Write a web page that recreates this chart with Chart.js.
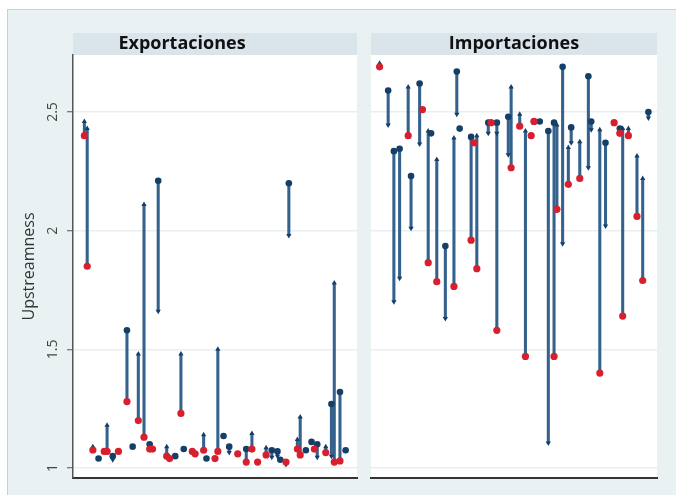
<!DOCTYPE html>
<html lang="es">
<head>
<meta charset="utf-8">
<title>Upstreamness</title>
<script src="https://cdn.jsdelivr.net/npm/chart.js@4.4.1/dist/chart.umd.min.js"></script>
<style>
  html, body { margin: 0; padding: 0; background: #fff; }
  #marco { position: absolute; left: 7px; top: 9px; width: 669px; height: 486px;
           background: #e9f1f3; border-top: 1px solid #c9cfd2; border-left: 1px solid #c9cfd2; box-sizing: border-box; }
  #izq { position: absolute; left: 0; top: 0; }
  #der { position: absolute; left: 362px; top: 0; }
</style>
</head>
<body>
<div id="marco"></div>
<canvas id="izq" width="362" height="495"></canvas>
<canvas id="der" width="314" height="495"></canvas>
<script>
// eje y
const valoresY = [1, 1.5, 2, 2.5];
const etiquetasY = ['1', '1.5', '2', '2.5'];

// Exportaciones: posicion del sector, punto rojo, punto azul, punta de flecha
const expSector = [4, 5, 7, 9, 11, 12, 14, 16, 19, 21, 23, 25, 27, 28, 30, 33, 34, 36, 38, 39, 42, 43, 46, 47, 50,
                   51, 53, 55, 58, 61, 63, 65, 68, 70, 72, 73, 75, 76, 79, 80, 82, 84, 85, 86, 89, 91, 92, 94, 96];
const expRojo = [2.40, 1.85, 1.076, null, 1.07, 1.07, null, 1.07, 1.28, null, 1.20, 1.13, 1.08, 1.08, null, 1.05, 1.04, null, 1.23, null, 1.07, 1.06, 1.075, null, 1.04,
                 1.07, null, null, 1.06, 1.025, 1.08, 1.025, 1.055, null, null, null, 1.025, null, 1.08, 1.055, null, null, 1.08, null, 1.065, null, 1.025, 1.03, null];
const expAzul = [null, null, null, 1.04, null, null, 1.05, null, 1.58, 1.09, null, null, 1.10, null, 2.21, null, null, 1.05, null, 1.08, null, null, null, 1.04, null,
                 null, 1.135, 1.09, null, 1.08, null, null, null, 1.075, 1.07, 1.035, null, 2.20, null, null, 1.075, 1.11, null, 1.10, null, 1.27, null, 1.32, 1.075];
const expFlecha = [2.46, 2.43, 1.09, null, null, 1.18, 1.035, null, null, null, 1.48, 2.11, null, null, 1.66, 1.09, null, null, 1.48, null, null, null, 1.14, null, null,
                   1.50, null, 1.065, null, null, 1.145, null, 1.085, 1.045, 1.05, null, 1.015, 1.98, 1.12, 1.215, null, null, null, 1.045, 1.09, 1.05, 1.78, null, null];

// Importaciones
const impSector = [3, 6, 8, 10, 13, 14, 17, 18, 20, 21, 23, 26, 29, 30, 31, 35, 36, 37, 41, 42, 44, 48, 49,
                   52, 54, 56, 57, 59, 62, 64, 65, 67, 69, 70, 73, 76, 77, 80, 82, 85, 87, 88, 90, 93, 95, 97];
const impRojo = [2.69, null, null, null, 2.40, null, null, 2.51, 1.865, null, 1.785, null, 1.765, null, null, 1.96, 2.37, 1.84, null, 2.455, 1.58, null, 2.265,
                 2.44, 1.47, 2.40, 2.46, null, null, 1.47, 2.09, null, 2.195, null, 2.22, null, null, 1.40, null, 2.455, 2.41, 1.64, 2.40, 2.06, 1.79, null];
const impAzul = [null, 2.59, 2.335, 2.345, null, 2.23, 2.62, null, null, 2.41, null, 1.935, null, 2.67, 2.43, 2.395, null, null, 2.455, null, 2.455, 2.48, null,
                 null, null, null, 2.46, 2.46, 2.42, 2.455, null, 2.69, null, 2.435, null, 2.65, 2.46, null, 2.37, null, 2.43, null, null, null, null, 2.50];
const impFlecha = [2.705, 2.445, 1.70, 1.80, 2.605, 2.01, 2.365, null, 2.42, null, 2.30, 1.63, 2.39, 2.49, null, null, null, 2.40, 2.41, null, 2.41, 2.32, 2.605,
                   2.49, 2.42, null, null, null, 1.105, null, 2.445, 1.945, 2.35, 2.37, 2.375, 2.265, 2.425, 2.425, 2.02, null, null, 2.43, 2.43, 2.315, 2.22, 2.475];

const rojo = '#d71f2e';
const azul = '#163f68';
const linea = '#34628d';

Chart.defaults.font.family = "'Open Sans', 'DejaVu Sans', sans-serif";
Chart.defaults.color = '#444';

function armarDatos(xs, r, a, f) {
  const barras = [], rojos = [], azules = [], flechas = [], giros = [];
  xs.forEach((x, i) => {
    const vals = [r[i], a[i], f[i]].filter(v => v != null);
    if (vals.length > 1) barras.push({ x: x, y: [Math.min(...vals), Math.max(...vals)] });
    if (r[i] != null) rojos.push({ x: x, y: r[i] });
    if (a[i] != null) azules.push({ x: x, y: a[i] });
    if (f[i] != null) {
      const otro = a[i] != null ? a[i] : r[i];
      flechas.push({ x: x, y: f[i] });
      giros.push(otro != null && f[i] < otro ? 180 : 0);
    }
  });
  return [
    { type: 'scatter', data: rojos, pointRadius: 3.6, pointBackgroundColor: rojo, pointBorderWidth: 0 },
    { type: 'scatter', data: azules, pointRadius: 3.3, pointBackgroundColor: azul, pointBorderWidth: 0 },
    { type: 'scatter', data: flechas, pointStyle: 'triangle', pointRadius: 3, pointRotation: giros,
      pointBackgroundColor: azul, pointBorderWidth: 0 },
    { type: 'bar', data: barras, backgroundColor: linea, barThickness: 2.4, grouped: false }
  ];
}

// fondo blanco del panel y franja del titulo
const fondoPanel = {
  id: 'fondoPanel',
  beforeDraw(chart) {
    const { ctx, chartArea: a } = chart;
    ctx.save();
    ctx.fillStyle = '#ffffff';
    ctx.fillRect(a.left, a.top, a.right - a.left, a.bottom - a.top);
    ctx.fillStyle = '#dae5eb';
    ctx.fillRect(a.left, a.top - 22, a.right - a.left, 22);
    ctx.restore();
  }
};

function opciones(titulo, conEje) {
  return {
    responsive: false,
    animation: false,
    layout: { padding: conEje ? { left: 7, right: 5, top: 33, bottom: 17 } : { left: 9, right: 19, top: 33, bottom: 17 } },
    plugins: {
      legend: { display: false },
      tooltip: { enabled: false },
      title: { display: true, text: titulo, color: '#111', font: { size: 18, weight: 'bold', lineHeight: 1.2 }, padding: { top: 0, bottom: 0.4 } }
    },
    scales: {
      x: {
        type: 'linear', min: 0, max: 100, offset: false,
        ticks: { display: false },
        grid: { color: 'rgba(0,0,0,0)', drawTicks: false },
        border: { display: true, color: '#333', width: 2 },
        afterFit: (s) => { s.height = 0; }
      },
      y: {
        min: 0.958, max: 2.74,
        afterBuildTicks: (s) => { s.ticks = valoresY.map(v => ({ value: v })); },
        ticks: {
          display: conEje, minRotation: 90, maxRotation: 90, crossAlign: 'center', padding: 4,
          font: { size: 14 }, color: '#444',
          callback: (v) => etiquetasY[valoresY.indexOf(v)]
        },
        grid: { color: '#e8eff2', lineWidth: 1.5, drawTicks: conEje, tickLength: 6, tickColor: '#555', tickWidth: 1 },
        border: { display: conEje, color: '#555', width: 1.5 },
        title: { display: conEje, text: 'Upstreamness', color: '#333', font: { size: 16, lineHeight: 1.2 }, padding: { top: 13, bottom: 0 } },
        afterFit: (s) => { s.width = conEje ? 66 : 0; }
      }
    }
  };
}

new Chart(document.getElementById('izq'), {
  type: 'bar',
  data: { datasets: armarDatos(expSector, expRojo, expAzul, expFlecha) },
  options: opciones('Exportaciones', true),
  plugins: [fondoPanel]
});

new Chart(document.getElementById('der'), {
  type: 'bar',
  data: { datasets: armarDatos(impSector, impRojo, impAzul, impFlecha) },
  options: opciones('Importaciones', false),
  plugins: [fondoPanel]
});
</script>
</body>
</html>
